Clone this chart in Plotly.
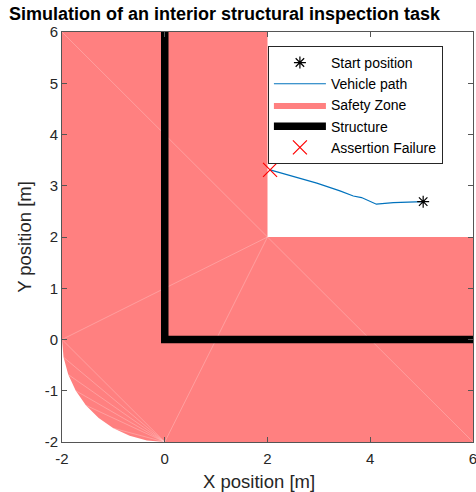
import plotly.graph_objects as go

# ---- data ----
zone_x = [-2, 2, 2, 6, 6, 0, -0.347, -0.684, -1.0, -1.286, -1.532, -1.732, -1.879, -1.970, -2, -2]
zone_y = [6, 6, 2, 2, -2, -2, -1.970, -1.879, -1.732, -1.532, -1.286, -1.0, -0.684, -0.347, 0, 6]

# triangulation edges (faint)
edge_x = [-2, 2, None, 2, -2, None, 2, 0, None, 2, 6, None, -2, 0, None,
          0, -1.970, None, 0, -1.879, None, 0, -1.732, None, 0, -1.532, None, 0, -1.0]
edge_y = [6, 2, None, 2, 0, None, 2, -2, None, 2, -2, None, 0, -2, None,
          -2, -0.347, None, -2, -0.684, None, -2, -1.0, None, -2, -1.286, None, -2, -1.732]

structure_x = [0, 0, 6]
structure_y = [6, 0, 0]

path_x = [5.03, 4.45, 4.12, 3.83, 3.67, 3.41, 2.96, 2.50, 2.05]
path_y = [2.69, 2.67, 2.64, 2.77, 2.80, 2.90, 3.05, 3.18, 3.31]

start_x = [5.03]
start_y = [2.69]
fail_x = [2.05]
fail_y = [3.31]

x_ticks = [-2, 0, 2, 4, 6]
y_ticks = [-2, -1, 0, 1, 2, 3, 4, 5, 6]

FONT = "Liberation Sans, Arial, sans-serif"

fig = go.Figure()
fig.add_trace(go.Scatter(x=zone_x, y=zone_y, mode="lines", fill="toself",
                         fillcolor="rgb(255,128,128)", line=dict(width=0, color="rgb(255,128,128)"),
                         name="Safety Zone", legendrank=3, hoverinfo="skip"))
fig.add_trace(go.Scatter(x=edge_x, y=edge_y, mode="lines",
                         line=dict(width=0.8, color="rgba(255,255,255,0.3)"),
                         showlegend=False, hoverinfo="skip"))
fig.add_trace(go.Scatter(x=structure_x, y=structure_y, mode="lines",
                         line=dict(width=7.5, color="black"),
                         name="Structure", legendrank=4))
fig.add_trace(go.Scatter(x=path_x, y=path_y, mode="lines",
                         line=dict(width=1.2, color="#0072BD"),
                         name="Vehicle path", legendrank=2))
fig.add_trace(go.Scatter(x=start_x, y=start_y, mode="markers",
                         marker=dict(symbol="asterisk-open", size=10, color="black",
                                     line=dict(width=1.2, color="black")),
                         name="Start position", legendrank=1))
fig.add_trace(go.Scatter(x=fail_x, y=fail_y, mode="markers",
                         marker=dict(symbol="x-thin-open", size=14, color="red",
                                     line=dict(width=1.2, color="red")),
                         name="Assertion Failure", legendrank=5))

axis_common = dict(showgrid=False, zeroline=False, showline=True, mirror="ticks",
                   linecolor="#555555", linewidth=1, ticks="inside", ticklen=5,
                   tickcolor="#555555", automargin=False, ticklabeloverflow="allow",
                   tickfont=dict(family=FONT, size=15, color="#262626"))

fig.update_xaxes(range=[-2, 6], tickvals=x_ticks, ticktext=[str(v) for v in x_ticks],
                 ticklabelstandoff=3, **axis_common)
fig.update_yaxes(range=[-2, 6], tickvals=y_ticks, ticktext=[str(v) for v in y_ticks],
                 title=dict(text="Y position [m]", font=dict(family=FONT, size=18.5, color="#262626"), standoff=8),
                 **axis_common)

fig.add_annotation(text="X position [m]", xref="paper", yref="paper",
                   x=(258.5 - 62) / 411, y=-(481 - 442) / 410, xanchor="center", yanchor="middle",
                   showarrow=False, font=dict(family=FONT, size=18.5, color="#262626"))

fig.update_layout(
    width=476, height=492,
    margin=dict(l=62, r=3, t=32, b=50),
    plot_bgcolor="white", paper_bgcolor="white",
    title=dict(text="<b>Simulation of an interior structural inspection task</b>",
               font=dict(family=FONT, size=18, color="black"),
               x=9/476, xanchor="left", xref="container",
               y=1 - 14/492, yanchor="middle", yref="container", automargin=False),
    legend=dict(x=0.501, y=0.966, xanchor="left", yanchor="top",
                bgcolor="white", bordercolor="#262626", borderwidth=1,
                font=dict(family=FONT, size=14, color="black"),
                tracegroupgap=0, itemwidth=52),
    showlegend=True,
)

fig.write_html("out.html", config={"displayModeBar": False},
               post_script="document.body.style.margin='0';document.body.style.overflow='hidden';")
